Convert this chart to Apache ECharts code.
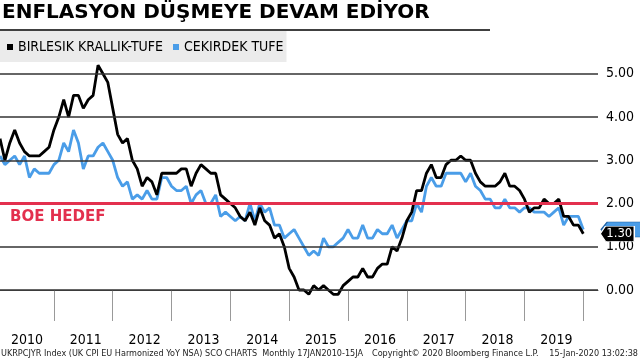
<!DOCTYPE html>
<html>
<head>
<meta charset="utf-8">
<script src="https://cdn.jsdelivr.net/npm/echarts@6/dist/echarts.min.js"></script>
<style>html,body{margin:0;padding:0;background:#fff;}#c{width:640px;height:360px;}</style>
</head>
<body>
<div id="c"></div>
<script>
var years = ['2010','2011','2012','2013','2014','2015','2016','2017','2018','2019'];
var yTicks = [0, 1, 2, 3, 4, 5];
var cpi = [
3.5,3.0,3.4,3.7,3.4,3.2,3.1,3.1,3.1,3.2,3.3,3.7,
4.0,4.4,4.0,4.5,4.5,4.2,4.4,4.5,5.2,5.0,4.8,4.2,
3.6,3.4,3.5,3.0,2.8,2.4,2.6,2.5,2.2,2.7,2.7,2.7,
2.7,2.8,2.8,2.4,2.7,2.9,2.8,2.7,2.7,2.2,2.1,2.0,
1.9,1.7,1.6,1.8,1.5,1.9,1.6,1.5,1.2,1.3,1.0,0.5,
0.3,0.0,0.0,-0.1,0.1,0.0,0.1,0.0,-0.1,-0.1,0.1,0.2,
0.3,0.3,0.5,0.3,0.3,0.5,0.6,0.6,1.0,0.9,1.2,1.6,
1.8,2.3,2.3,2.7,2.9,2.6,2.6,2.9,3.0,3.0,3.1,3.0,
3.0,2.7,2.5,2.4,2.4,2.4,2.5,2.7,2.4,2.4,2.3,2.1,
1.8,1.9,1.9,2.1,2.0,2.0,2.1,1.7,1.7,1.5,1.5,1.3];
var core = [
3.1,2.9,3.0,3.1,2.9,3.1,2.6,2.8,2.7,2.7,2.7,2.9,
3.0,3.4,3.2,3.7,3.4,2.8,3.1,3.1,3.3,3.4,3.2,3.0,
2.6,2.4,2.5,2.1,2.2,2.1,2.3,2.1,2.1,2.6,2.6,2.4,
2.3,2.3,2.4,2.0,2.2,2.3,2.0,2.0,2.2,1.7,1.8,1.7,
1.6,1.7,1.6,2.0,1.6,2.0,1.8,1.9,1.5,1.5,1.2,1.3,
1.4,1.2,1.0,0.8,0.9,0.8,1.2,1.0,1.0,1.1,1.2,1.4,
1.2,1.2,1.5,1.2,1.2,1.4,1.3,1.3,1.5,1.2,1.4,1.6,
1.6,2.0,1.8,2.4,2.6,2.4,2.4,2.7,2.7,2.7,2.7,2.5,
2.7,2.4,2.3,2.1,2.1,1.9,1.9,2.1,1.9,1.9,1.8,1.9,
1.9,1.8,1.8,1.8,1.7,1.8,1.9,1.5,1.7,1.7,1.7,1.4];
var target = 2.0;
var seriesNames = ['BIRLESIK KRALLIK-TUFE', 'CEKIRDEK TUFE'];

var months = [];
for (var y = 2010; y <= 2020; y++) {
  for (var m = 1; m <= 12; m++) {
    if (y === 2020 && m > 3) break;
    months.push(y + '-' + (m < 10 ? '0' + m : m));
  }
}
var last = cpi.length - 1;
var NARROW = "'Liberation Sans Narrow', 'DejaVu Sans Condensed', 'Liberation Sans', sans-serif";
var tagPath = 'path://M0,7 L6,0 L40,0 L40,14 L6,14 Z';

var chart = echarts.init(document.getElementById('c'), null, {renderer: 'canvas'});
chart.setOption({
  animation: false,
  backgroundColor: '#fff',
  title: {
    text: 'ENFLASYON DÜŞMEYE DEVAM EDİYOR',
    left: 2, top: 3, padding: 0,
    textStyle: {fontFamily: 'DejaVu Sans', fontWeight: 'bold', fontSize: 20, color: '#000'}
  },
  legend: {
    data: seriesNames,
    left: 0, top: 31,
    backgroundColor: '#ebebeb',
    padding: [9, 3, 8, 7],
    icon: 'rect', itemWidth: 6, itemHeight: 6, itemGap: 10,
    textStyle: {fontFamily: NARROW, fontSize: 14, color: '#000'}
  },
  grid: {left: 0, right: 42, top: 50, bottom: 43, containLabel: false},
  xAxis: {
    type: 'category', data: months, boundaryGap: false,
    axisLine: {lineStyle: {color: '#555', width: 1}},
    axisTick: {show: true, interval: function (i) { return i % 12 === 11; }, length: 31,
      lineStyle: {color: '#999', width: 1}},
    axisLabel: {interval: function (i) { return i % 12 === 5 && i < 120; },
      formatter: function (v) { return v.slice(0, 4); },
      margin: 16, padding: [0, 0, 0, 5], fontFamily: NARROW, fontSize: 14, color: '#000'},
    splitLine: {show: false}
  },
  yAxis: {
    type: 'value', position: 'right', min: -0.625, max: 5.55,
    axisLine: {show: false}, axisTick: {show: false}, splitLine: {show: false},
    axisLabel: {margin: 8, fontFamily: NARROW, fontSize: 14, color: '#000',
      showMinLabel: false, showMaxLabel: false,
      formatter: function (v) { return Math.abs(v - Math.round(v)) < 1e-6 ? v.toFixed(2) : ''; }}
  },
  graphic: [
    {type: 'line', shape: {x1: 0, y1: 30, x2: 490, y2: 30}, style: {stroke: '#000', lineWidth: 1.5}, z: 10},
    {type: 'text', left: 1, top: 349, style: {text: 'UKRPCJYR Index (UK CPI EU Harmonized YoY NSA) SCO CHARTS  Monthly 17JAN2010-15JA', font: '9px ' + NARROW, fill: '#222'}},
    {type: 'text', left: 372, top: 349, style: {text: 'Copyright© 2020 Bloomberg Finance L.P.', font: '9px ' + NARROW, fill: '#222'}},
    {type: 'text', right: 2, top: 349, style: {text: '15-Jan-2020 13:02:38', font: '9px ' + NARROW, fill: '#222'}}
  ],
  series: [
    {
      type: 'line', data: [], z: 1, silent: true,
      markLine: {
        silent: true, symbol: ['none', 'none'], animation: false,
        label: {show: false},
        lineStyle: {color: '#333', width: 1.5, type: 'solid'},
        data: yTicks.map(function (v) { return {yAxis: v}; })
      }
    },
    {
      name: seriesNames[1], type: 'line', data: core, z: 3,
      symbol: 'none', lineStyle: {color: '#4a9de8', width: 2.8}, itemStyle: {color: '#4a9de8'},
      markPoint: {
        symbol: tagPath, symbolSize: [40, 15], symbolOffset: [38, 0], silent: true,
        itemStyle: {color: '#4a9de8', borderColor: '#1f5fa0', borderWidth: 1},
        label: {show: false},
        data: [{coord: [last, core[last]], value: core[last]}]
      }
    },
    {
      name: seriesNames[0], type: 'line', data: cpi, z: 4,
      symbol: 'none', lineStyle: {color: '#000', width: 2.8}, itemStyle: {color: '#000'},
      markLine: {
        silent: true, symbol: ['none', 'none'], animation: false,
        lineStyle: {color: '#e3304e', width: 3, type: 'solid'},
        label: {show: true, position: 'insideStartBottom', formatter: 'BOE HEDEF',
          color: '#e3304e', fontFamily: 'DejaVu Sans', fontWeight: 'bold', fontSize: 15, distance: [10, 6]},
        data: [{yAxis: target}]
      },
      markPoint: {
        symbol: tagPath, symbolSize: [34, 15], symbolOffset: [34, 0], silent: true,
        itemStyle: {color: '#000', borderColor: '#fff', borderWidth: 1},
        label: {show: true, color: '#fff', fontFamily: NARROW, fontSize: 13, offset: [2, 0],
          formatter: function (p) { return p.value.toFixed(2); }},
        data: [{coord: [last, cpi[last]], value: cpi[last]}]
      }
    }
  ]
});
</script>
</body>
</html>
